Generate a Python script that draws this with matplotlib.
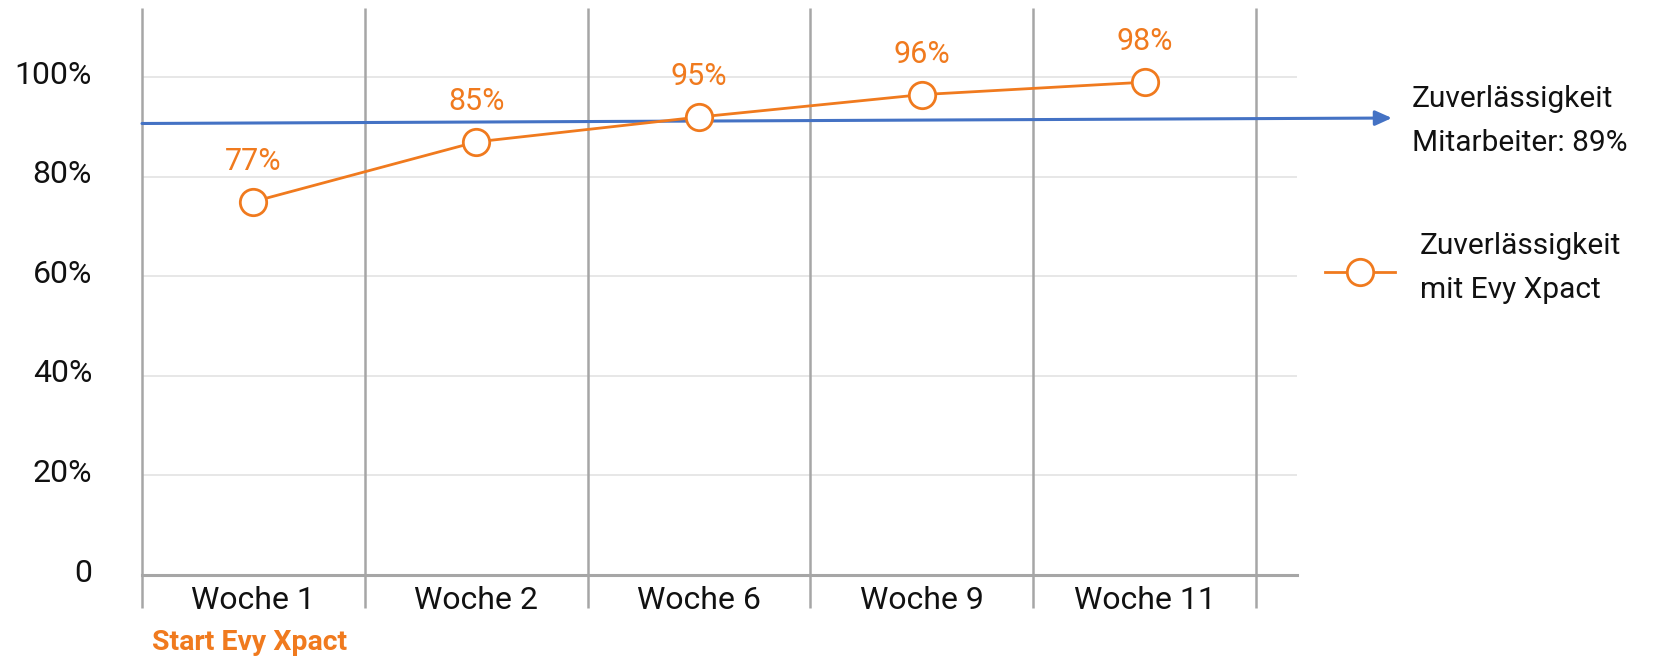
import matplotlib
matplotlib.use("Agg")
import matplotlib.pyplot as plt
from matplotlib.transforms import ScaledTranslation

plt.rcParams['font.family'] = ['Roboto', 'DejaVu Sans']

# ---- data ----
categories = ["Woche 1", "Woche 2", "Woche 6", "Woche 9", "Woche 11"]
evy_values = [75, 87, 92, 96.5, 99]            # plotted positions (%)
evy_labels = ["77%", "85%", "95%", "96%", "98%"]
mitarbeiter_start = 90.7                      # blue trend line (%)
mitarbeiter_end = 91.8
y_ticks = [0, 20, 40, 60, 80, 100]
y_ticklabels = ["0", "20%", "40%", "60%", "80%", "100%"]
start_note = "Start Evy Xpact"
mitarbeiter_text = "Zuverlässigkeit\nMitarbeiter: 89%"
evy_legend_text = "Zuverlässigkeit\nmit Evy Xpact"

ORANGE = "#F07A1E"
BLUE = "#4472C4"
GRID = "#E3E3E3"
SEP = "#A6A6A6"

fig = plt.figure(figsize=(16.69, 6.59), dpi=100)
ax = fig.add_axes([142/1669, 1-575/659, (1297-142)/1669, (575-8)/659])

n = len(categories)
ax.set_xlim(-0.5, 4.684)
ax.set_ylim(0, 113.9)

# horizontal gridlines
for t in y_ticks[1:]:
    ax.axhline(t, color=GRID, lw=1.2, zorder=0)
# baseline
ax.axhline(0, color=SEP, lw=2.2, zorder=1, clip_on=False)
# vertical category separators (extend below axis)
for k in range(n + 1):
    ax.plot([k - 0.5, k - 0.5], [-6.6, 113.9], color=SEP, lw=1.8,
            clip_on=False, zorder=1, solid_capstyle='butt')

for s in ax.spines.values():
    s.set_visible(False)

# y ticks
ax.set_yticks(y_ticks)
ax.set_yticklabels(y_ticklabels, fontsize=23, color="#111111")
ax.tick_params(axis='y', length=0, pad=36)
for lab in ax.get_yticklabels():
    lab.set_transform(lab.get_transform() + ScaledTranslation(0, 5/100, fig.dpi_scale_trans))

# x ticks
ax.set_xticks(range(n))
ax.set_xticklabels(categories, fontsize=23, color="#111111")
ax.tick_params(axis='x', length=0, pad=8)

# blue line with arrow, extending beyond axes
ax.annotate("", xy=(5.11, mitarbeiter_end), xytext=(-0.5, mitarbeiter_start),
            xycoords='data', textcoords='data', annotation_clip=False,
            arrowprops=dict(arrowstyle="-|>,head_length=1.0,head_width=0.45",
                            color=BLUE, lw=2.2, shrinkA=0, shrinkB=0),
            zorder=3)

# orange series
xs = list(range(n))
ax.plot(xs, evy_values, color=ORANGE, lw=2.0, marker='o', markersize=19,
        markerfacecolor='white', markeredgecolor=ORANGE, markeredgewidth=2.0,
        zorder=4, clip_on=False)
for x, v, lab in zip(xs, evy_values, evy_labels):
    ax.annotate(lab, (x, v), xytext=(0, 29), textcoords='offset points',
                ha='center', va='center', fontsize=22, color=ORANGE)

# start note
fig.text(152/1669, 1-643/659, start_note, fontsize=20.5, color=ORANGE,
         fontweight='semibold', ha='left', va='center')

# right-side annotations
fig.text(1412/1669, 1-121/659, mitarbeiter_text, fontsize=21.5, color="#111111",
         ha='left', va='center', linespacing=1.72)

# legend-like sample
ly = 1-272/659
fig.add_artist(plt.Line2D([1325/1669, 1395/1669], [ly, ly], color=ORANGE, lw=2.0))
fig.add_artist(plt.Line2D([1360/1669], [ly], marker='o', markersize=19,
                          markerfacecolor='white', markeredgecolor=ORANGE,
                          markeredgewidth=2.0))
fig.text(1420/1669, 1-268/659, evy_legend_text, fontsize=21.5, color="#111111",
         ha='left', va='center', linespacing=1.72)

fig.savefig("out.png", dpi=100)
